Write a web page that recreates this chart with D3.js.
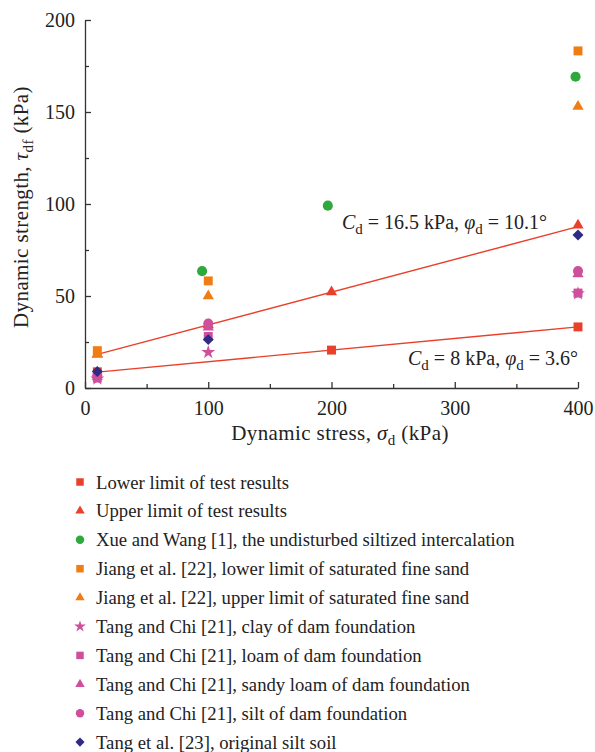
<!DOCTYPE html>
<html><head><meta charset="utf-8">
<script src="https://cdn.jsdelivr.net/npm/d3@7"></script>
<style>
body{margin:0;background:#fff;}
svg, svg text{font-family:"Liberation Serif","DejaVu Serif",serif;}
</style></head>
<body><svg id="c" width="595" height="752"></svg>
<script>
const xTicks = [0, 100, 200, 300, 400];
const yTicks = [0, 50, 100, 150, 200];
const lowerTest = [[10, 8.8], [200, 20.6], [400, 33.2]];
const upperTest = [[10, 18.3], [100, 34.3], [200, 52.2], [400, 88.4]];
const xueWang = [[95, 63.5], [197, 99.1], [398, 169.2]];
const jiangLower = [[10, 20.3], [100, 58.2], [400, 183.2]];
const jiangUpper = [[10, 18.4], [100, 50.0], [400, 153.0]];
const tangClay = [[10, 5.0], [100, 19.4], [400, 51.3]];
const tangLoam = [[10, 5.4], [100, 28.0], [400, 51.6]];
const tangSandy = [[10, 6.2], [100, 33.0], [400, 62.0]];
const tangSilt = [[10, 6.8], [100, 35.0], [400, 63.6]];
const tangOrig = [[10, 9.0], [100, 26.3], [400, 83.2]];
const lowerFit = [[10, 8.63], [400, 33.2]];
const upperFit = [[10, 18.3], [400, 87.7]];
const legendLabels = [
  "Lower limit of test results",
  "Upper limit of test results",
  "Xue and Wang [1], the undisturbed siltized intercalation",
  "Jiang et al. [22], lower limit of saturated fine sand",
  "Jiang et al. [22], upper limit of saturated fine sand",
  "Tang and Chi [21], clay of dam foundation",
  "Tang and Chi [21], loam of dam foundation",
  "Tang and Chi [21], sandy loam of dam foundation",
  "Tang and Chi [21], silt of dam foundation",
  "Tang et al. [23], original silt soil"
];

const RED = "#e8402b", ORANGE = "#f07c14", GREEN = "#2fa83d", PINK = "#cf4f9c", NAVY = "#2f2a86";
const series = [
  {data: lowerTest, shape: "square", color: RED},
  {data: upperTest, shape: "triangle", color: RED},
  {data: xueWang, shape: "circle", color: GREEN},
  {data: jiangLower, shape: "square", color: ORANGE},
  {data: jiangUpper, shape: "triangle", color: ORANGE},
  {data: tangClay, shape: "star", color: PINK},
  {data: tangLoam, shape: "square", color: PINK},
  {data: tangSandy, shape: "triangle", color: PINK},
  {data: tangSilt, shape: "circle", color: PINK},
  {data: tangOrig, shape: "diamond", color: NAVY}
];
series.forEach((s, i) => s.label = legendLabels[i]);

const FONT = "Liberation Serif, serif";
const TXT = "#222";
const svg = d3.select("#c");
const x = d3.scaleLinear().domain([0, 400]).range([85, 578]);
const y = d3.scaleLinear().domain([0, 200]).range([388, 20]);

function symPath(shape, k) {
  k = k || 1;
  if (shape === "square") return d3.symbol(d3.symbolSquare, 80 * k)();
  if (shape === "circle") return d3.symbol(d3.symbolCircle, 80 * k)();
  if (shape === "triangle") return d3.symbol(d3.symbolTriangle, 55 * k)();
  if (shape === "star") return d3.symbol(d3.symbolStar, 60 * k)();
  if (shape === "diamond") return d3.symbol(d3.symbolSquare, 60 * k)();
}
function symTransform(shape, px, py) {
  return shape === "diamond" ? `translate(${px},${py}) rotate(45)` : `translate(${px},${py})`;
}

// axes
const axisColor = "#333";
const gx = svg.append("g").attr("transform", "translate(0,388)")
  .call(d3.axisBottom(x).tickValues(xTicks).tickSize(-6).tickPadding(13).tickSizeOuter(0));
const gxm = svg.append("g").attr("transform", "translate(0,388)")
  .call(d3.axisBottom(x).tickValues([50, 150, 250, 350]).tickSize(-4).tickFormat("").tickSizeOuter(0));
gxm.select(".domain").remove();
const gy = svg.append("g").attr("transform", "translate(85,0)")
  .call(d3.axisLeft(y).tickValues(yTicks).tickSize(-6).tickPadding(10).tickSizeOuter(0));
const gym = svg.append("g").attr("transform", "translate(85,0)")
  .call(d3.axisLeft(y).tickValues([25, 75, 125, 175]).tickSize(-4).tickFormat("").tickSizeOuter(0));
gym.select(".domain").remove();
[gx, gxm, gy, gym].forEach(g => {
  g.attr("font-family", FONT);
  g.selectAll("path,line").attr("stroke", axisColor).attr("stroke-width", 1.3);
  g.selectAll("text").attr("fill", TXT).style("font-size", "20px");
});

// axis titles
svg.append("text").attr("x", 340).attr("y", 440).attr("text-anchor", "middle")
  .attr("font-family", FONT).style("font-size", "21px").style("letter-spacing", "0.4px").attr("fill", TXT)
  .call(t => {
    t.append("tspan").text("Dynamic stress, ");
    t.append("tspan").attr("font-style", "italic").text("σ");
    t.append("tspan").attr("dy", 5).style("font-size", "15px").text("d");
    t.append("tspan").attr("dy", -5).text(" (kPa)");
  });
svg.append("text").attr("transform", "translate(28,207) rotate(-90)").attr("text-anchor", "middle")
  .attr("font-family", FONT).style("font-size", "21px").style("letter-spacing", "0.4px").attr("fill", TXT)
  .call(t => {
    t.append("tspan").text("Dynamic strength, ");
    t.append("tspan").attr("font-style", "italic").text("τ");
    t.append("tspan").attr("dy", 5).style("font-size", "15px").text("df");
    t.append("tspan").attr("dy", -5).text(" (kPa)");
  });

// fit lines
const line = d3.line().x(d => x(d[0])).y(d => y(d[1]));
[lowerFit, upperFit].forEach(f => svg.append("path").attr("d", line(f))
  .attr("fill", "none").attr("stroke", RED).attr("stroke-width", 1.4));

// annotations
function annot(xp, yp, anchor, C, phi) {
  svg.append("text").attr("x", xp).attr("y", yp).attr("text-anchor", anchor)
    .attr("font-family", FONT).style("font-size", "20px").attr("fill", TXT)
    .call(t => {
      t.append("tspan").attr("font-style", "italic").text("C");
      t.append("tspan").attr("dy", 5).style("font-size", "15px").text("d");
      t.append("tspan").attr("dy", -5).text(` = ${C} kPa, `);
      t.append("tspan").attr("font-style", "italic").text("φ");
      t.append("tspan").attr("dy", 5).style("font-size", "15px").text("d");
      t.append("tspan").attr("dy", -5).text(` = ${phi}°`);
    });
}
annot(342, 229, "start", "16.5", "10.1");
annot(578, 365, "end", "8", "3.6");

// points
series.forEach(s => {
  svg.append("g").selectAll("path").data(s.data).join("path")
    .attr("d", symPath(s.shape))
    .attr("transform", d => symTransform(s.shape, x(d[0]), y(d[1])))
    .attr("fill", s.color);
});

// legend
const lg = svg.append("g");
series.forEach((s, i) => {
  const yy = 482 + i * 28.9;
  lg.append("path").attr("d", symPath(s.shape, 0.7))
    .attr("transform", symTransform(s.shape, 80, yy)).attr("fill", s.color);
  lg.append("text").attr("x", 96).attr("y", yy + 6.5)
    .attr("font-family", FONT).style("font-size", "18.7px")
    .attr("fill", TXT).text(s.label);
});
</script></body></html>
